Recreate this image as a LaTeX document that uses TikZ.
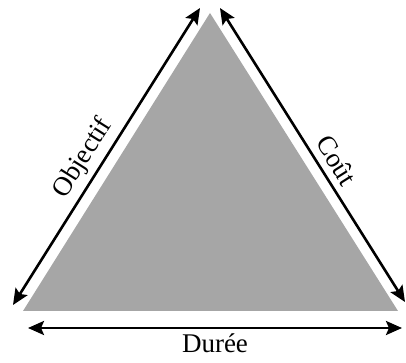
\documentclass[tikz,border=0pt]{standalone}
\usepackage{fontspec}
\setmainfont{Liberation Serif}
\usepackage{tikz}
\usetikzlibrary{calc, positioning, arrows.meta}

\begin{document}
\begin{tikzpicture}[x=1pt, y=1pt,
    axe/.style={{Stealth[length=16pt, width=14pt, inset=3pt]}-{Stealth[length=16pt, width=14pt, inset=3pt]}, line width=2.6pt},
    etiquette/.style={font=\fontsize{27}{31}\selectfont, inner sep=1pt}]
          \useasboundingbox (0, 0) rectangle (406, 363);
          % triangle
          \coordinate (bg) at (23, 52);
          \coordinate (bd) at (398, 52);
          \coordinate (haut) at (210, 350);
          \fill[black!35] (bg) -- (bd) -- (haut) -- cycle;

          % extremites des fleches
          \coordinate (objA) at (13, 58);
          \coordinate (objB) at (200, 355);
          \coordinate (coutA) at (220, 355);
          \coordinate (coutB) at (405, 61);
          \coordinate (dureeA) at (28, 35);
          \coordinate (dureeB) at (402, 35);

          \draw[axe]  (objA) -- (objB) node[pos=0.46, sloped, above=4pt, etiquette] (objectif) {Objectif};
          \draw[axe]  (coutA) -- (coutB) node[pos=0.55, sloped, above=6pt, etiquette] (cout) {Coût};
          \draw[axe]  (dureeA) -- (dureeB) node[midway, below=3pt, etiquette] (duree) {Durée};

      \end{tikzpicture}
\end{document}
